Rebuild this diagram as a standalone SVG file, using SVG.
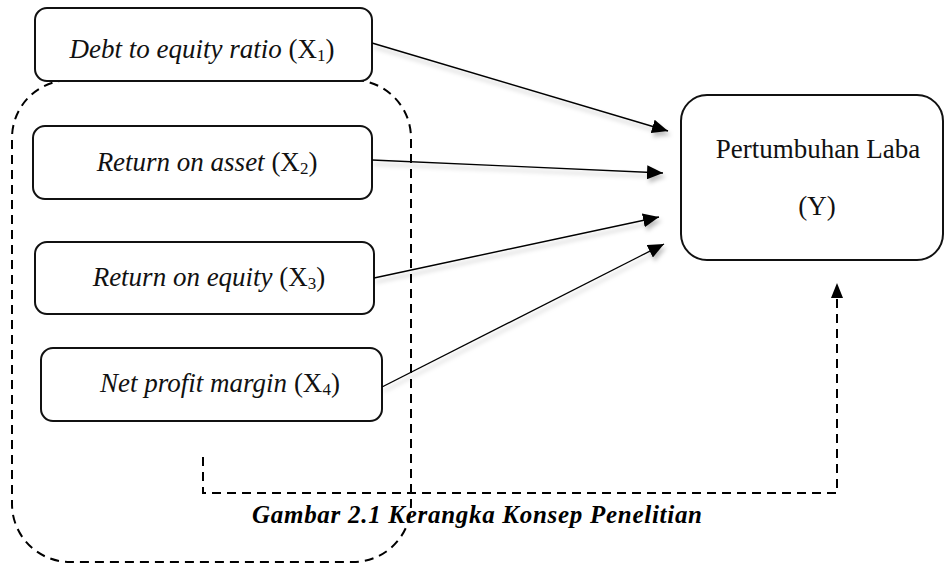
<svg xmlns="http://www.w3.org/2000/svg" width="945" height="563" viewBox="0 0 945 563">
<style>
.box{fill:#fff;stroke:#111;stroke-width:2}
.t{font-family:"Liberation Serif","Times New Roman",serif;font-size:27px;fill:#111}
.i{font-style:italic}
.sub{font-size:17px}
.conn{stroke:#000;stroke-width:1.4;fill:none}
.dash{stroke:#000;stroke-width:2;fill:none;stroke-dasharray:9 6}
.cap{font-family:"Liberation Serif","Times New Roman",serif;font-size:25px;font-weight:bold;font-style:italic;fill:#000}
</style>
<defs>
<marker id="ah" markerUnits="userSpaceOnUse" markerWidth="18" markerHeight="14" refX="16" refY="7" orient="auto">
<path d="M0,0 L16,7 L0,14 Z" fill="#000"/>
</marker>
<filter id="sh" x="-10%" y="-10%" width="130%" height="140%">
<feDropShadow dx="2" dy="4" stdDeviation="2" flood-color="#000" flood-opacity="0.25"/>
</filter>
</defs>
<rect x="12" y="80" width="399" height="482" rx="58" ry="58" class="dash"/>
<g id="x1">
<rect class="box" x="35" y="8" width="337" height="73" rx="12"/>
<text class="t" x="202" y="58" text-anchor="middle"><tspan class="i">Debt to equity ratio</tspan> (X<tspan class="sub" dy="3">1</tspan><tspan dy="-3">)</tspan></text>
</g>
<g id="x2">
<rect class="box" x="33" y="126" width="339" height="73" rx="12"/>
<text class="t" x="207" y="171" text-anchor="middle"><tspan class="i">Return on asset</tspan> (X<tspan class="sub" dy="3">2</tspan><tspan dy="-3">)</tspan></text>
</g>
<g id="x3">
<rect class="box" x="35" y="242" width="339" height="72" rx="12"/>
<text class="t" x="209" y="286" text-anchor="middle"><tspan class="i">Return on equity</tspan> (X<tspan class="sub" dy="3">3</tspan><tspan dy="-3">)</tspan></text>
</g>
<g id="x4">
<rect class="box" x="41" y="348" width="341" height="73" rx="12"/>
<text class="t" x="220" y="392" text-anchor="middle"><tspan class="i">Net profit margin</tspan> (X<tspan class="sub" dy="3">4</tspan><tspan dy="-3">)</tspan></text>
</g>
<g id="y">
<rect class="box" x="681" y="95" width="262" height="165" rx="26" stroke="#1c2433"/>
<text class="t" x="818" y="158" text-anchor="middle">Pertumbuhan Laba</text>
<text class="t" x="817" y="215" text-anchor="middle">(Y)</text>
</g>
<g id="connectors">
<g filter="url(#sh)">
<line class="conn" x1="372" y1="43" x2="668" y2="131" marker-end="url(#ah)"/>
<line class="conn" x1="372" y1="160" x2="663" y2="173" marker-end="url(#ah)"/>
<line class="conn" x1="374" y1="278" x2="659" y2="217" marker-end="url(#ah)"/>
<line class="conn" x1="382" y1="387" x2="664" y2="244" marker-end="url(#ah)"/>
</g>
<polyline class="dash" points="203,457 203,493 837,493 837,296"/>
<path d="M837,283 L843,298 L831,298 Z" fill="#000"/>
</g>
<text class="cap" x="252" y="523" textLength="450" lengthAdjust="spacing">Gambar 2.1 Kerangka Konsep Penelitian</text>
</svg>
